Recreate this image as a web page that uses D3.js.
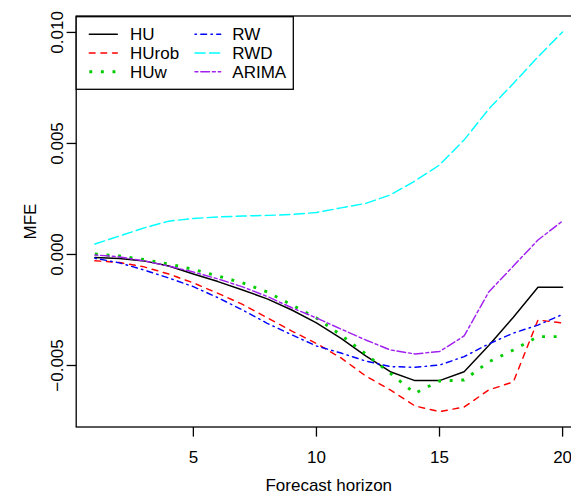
<!DOCTYPE html>
<html>
<head>
<meta charset="utf-8">
<script src="https://cdn.jsdelivr.net/npm/d3@7/dist/d3.min.js"></script>
<style>
  html, body { margin: 0; padding: 0; background: #fff; }
  svg { display: block; }
  text { font-family: "Liberation Sans", Arial, Helvetica, sans-serif; font-size: 17px; fill: #000; }
</style>
</head>
<body>
<script>
const horizons = d3.range(1, 21);
const xTicks = [5, 10, 15, 20];
const yTicks = [-0.005, 0.000, 0.005, 0.010];
const yTickLabels = ["-0.005", "0.000", "0.005", "0.010"];

const HU    = [-0.00014,-0.00018,-0.00029,-0.00052,-0.00088,-0.00122,-0.00160,-0.00200,-0.00250,-0.00308,-0.00378,-0.00457,-0.00528,-0.00568,-0.00568,-0.00528,-0.00410,-0.00283,-0.00148,-0.00148];
const HUrob = [-0.00028,-0.00036,-0.00056,-0.00088,-0.00128,-0.00175,-0.00225,-0.00285,-0.00345,-0.00401,-0.00466,-0.00547,-0.00610,-0.00682,-0.00708,-0.00687,-0.00610,-0.00574,-0.00295,-0.00309];
const HUw   = [ 0.00002,-0.00007,-0.00023,-0.00043,-0.00067,-0.00097,-0.00128,-0.00169,-0.00227,-0.00286,-0.00363,-0.00448,-0.00535,-0.00625,-0.00570,-0.00565,-0.00484,-0.00430,-0.00370,-0.00370];
const RW    = [-0.00017,-0.00038,-0.00070,-0.00106,-0.00145,-0.00195,-0.00250,-0.00310,-0.00362,-0.00412,-0.00444,-0.00480,-0.00505,-0.00508,-0.00498,-0.00460,-0.00403,-0.00354,-0.00318,-0.00270];
const RWD   = [ 0.00047, 0.00083, 0.00120, 0.00150, 0.00162, 0.00169, 0.00173, 0.00176, 0.00180, 0.00189, 0.00210, 0.00230, 0.00268, 0.00331, 0.00403, 0.00516, 0.00655, 0.00770, 0.00890, 0.01002];
const ARIMA = [-0.00002,-0.00011,-0.00029,-0.00052,-0.00079,-0.00110,-0.00146,-0.00189,-0.00240,-0.00286,-0.00336,-0.00385,-0.00430,-0.00448,-0.00437,-0.00367,-0.00169,-0.00052, 0.00065, 0.00151];

const seriesNames = ["HU", "HUrob", "HUw", "RW", "RWD", "ARIMA"];
const seriesValues = [HU, HUrob, HUw, RW, RWD, ARIMA];

const unit = 1.45;
const styles = {
  HU:    { color: "#000000", width: unit,     dash: null,         cap: "round" },
  HUrob: { color: "#FF0000", width: unit,     dash: [4, 4],       cap: "round" },
  HUw:   { color: "#00CD00", width: 2 * unit, dash: [1, 3],       cap: "butt"  },
  RW:    { color: "#0000FF", width: unit,     dash: [1, 3, 4, 3], cap: "round" },
  RWD:   { color: "#00FFFF", width: unit,     dash: [7, 3],       cap: "round" },
  ARIMA: { color: "#A020F0", width: unit,     dash: [2, 2, 6, 2], cap: "round" }
};
function rDash(s) {
  if (!s.dash) return null;
  return s.dash.map(u => u * s.width).join(",");
}

const W = 571, H = 493;
const svg = d3.select("body").append("svg").attr("width", W).attr("height", H);

// scales (R-style 4% extended ranges)
const x = d3.scaleLinear().domain([0.24, 20.76]).range([76.2, 581.3]);
const y = d3.scaleLinear().domain([-0.00777, 0.01074]).range([427, 16]);

const pLeft = x.range()[0], pRight = x.range()[1];
const pTop = y.range()[1], pBottom = y.range()[0];

svg.append("defs").append("clipPath").attr("id", "clip")
  .append("rect").attr("x", pLeft).attr("y", pTop).attr("width", pRight - pLeft).attr("height", pBottom - pTop);

const plot = svg.append("g").attr("clip-path", "url(#clip)");

const line = d3.line().x((d, i) => x(horizons[i])).y(d => y(d));

seriesNames.forEach((name, k) => {
  const s = styles[name];
  plot.append("path")
    .datum(seriesValues[k])
    .attr("d", line)
    .attr("fill", "none")
    .attr("stroke", s.color)
    .attr("stroke-width", s.width)
    .attr("stroke-linejoin", "round")
    .attr("stroke-linecap", s.cap)
    .attr("stroke-dasharray", rDash(s));
});

// box
svg.append("rect")
  .attr("x", pLeft).attr("y", pTop)
  .attr("width", pRight - pLeft).attr("height", pBottom - pTop)
  .attr("fill", "none").attr("stroke", "#000").attr("stroke-width", 1.3);

// x axis
const xAxis = svg.append("g");
xTicks.forEach(t => {
  xAxis.append("line").attr("x1", x(t)).attr("x2", x(t)).attr("y1", pBottom).attr("y2", pBottom + 9.6)
    .attr("stroke", "#000").attr("stroke-width", 1.3);
  xAxis.append("text").attr("x", x(t)).attr("y", 463.3).attr("text-anchor", "middle").text(t);
});

// y axis
const yAxis = svg.append("g");
yTicks.forEach((t, i) => {
  yAxis.append("line").attr("x1", pLeft).attr("x2", pLeft - 9.6).attr("y1", y(t)).attr("y2", y(t))
    .attr("stroke", "#000").attr("stroke-width", 1.3);
  yAxis.append("text")
    .attr("transform", `translate(63,${y(t)}) rotate(-90)`)
    .attr("text-anchor", "middle")
    .text(yTickLabels[i].replace("-", "\u2212"));
});

// axis titles
svg.append("text").attr("x", (pLeft + pRight) / 2).attr("y", 490.5).attr("text-anchor", "middle").text("Forecast horizon");
svg.append("text").attr("transform", `translate(36,${(pTop + pBottom) / 2}) rotate(-90)`).attr("text-anchor", "middle").text("MFE");

// legend
const lg = svg.append("g");
lg.append("rect").attr("x", pLeft).attr("y", pTop + 0.7).attr("width", 293.3 - pLeft).attr("height", 89.3 - pTop - 0.7)
  .attr("fill", "#fff").attr("stroke", "#000").attr("stroke-width", 1.3);
const rowsY = [34.3, 53.0, 71.7];
const cols = [{ x1: 89.3, x2: 117.3, tx: 130 }, { x1: 195, x2: 220.7, tx: 232.3 }];
seriesNames.forEach((name, k) => {
  const c = cols[Math.floor(k / 3)], ry = rowsY[k % 3];
  const s = styles[name];
  lg.append("line").attr("x1", c.x1).attr("x2", c.x2).attr("y1", ry).attr("y2", ry)
    .attr("stroke", s.color).attr("stroke-width", s.width)
    .attr("stroke-linecap", s.cap)
    .attr("stroke-dasharray", rDash(s));
  lg.append("text").attr("x", c.tx).attr("y", ry + 6.1).text(name);
});
</script>
</body>
</html>
